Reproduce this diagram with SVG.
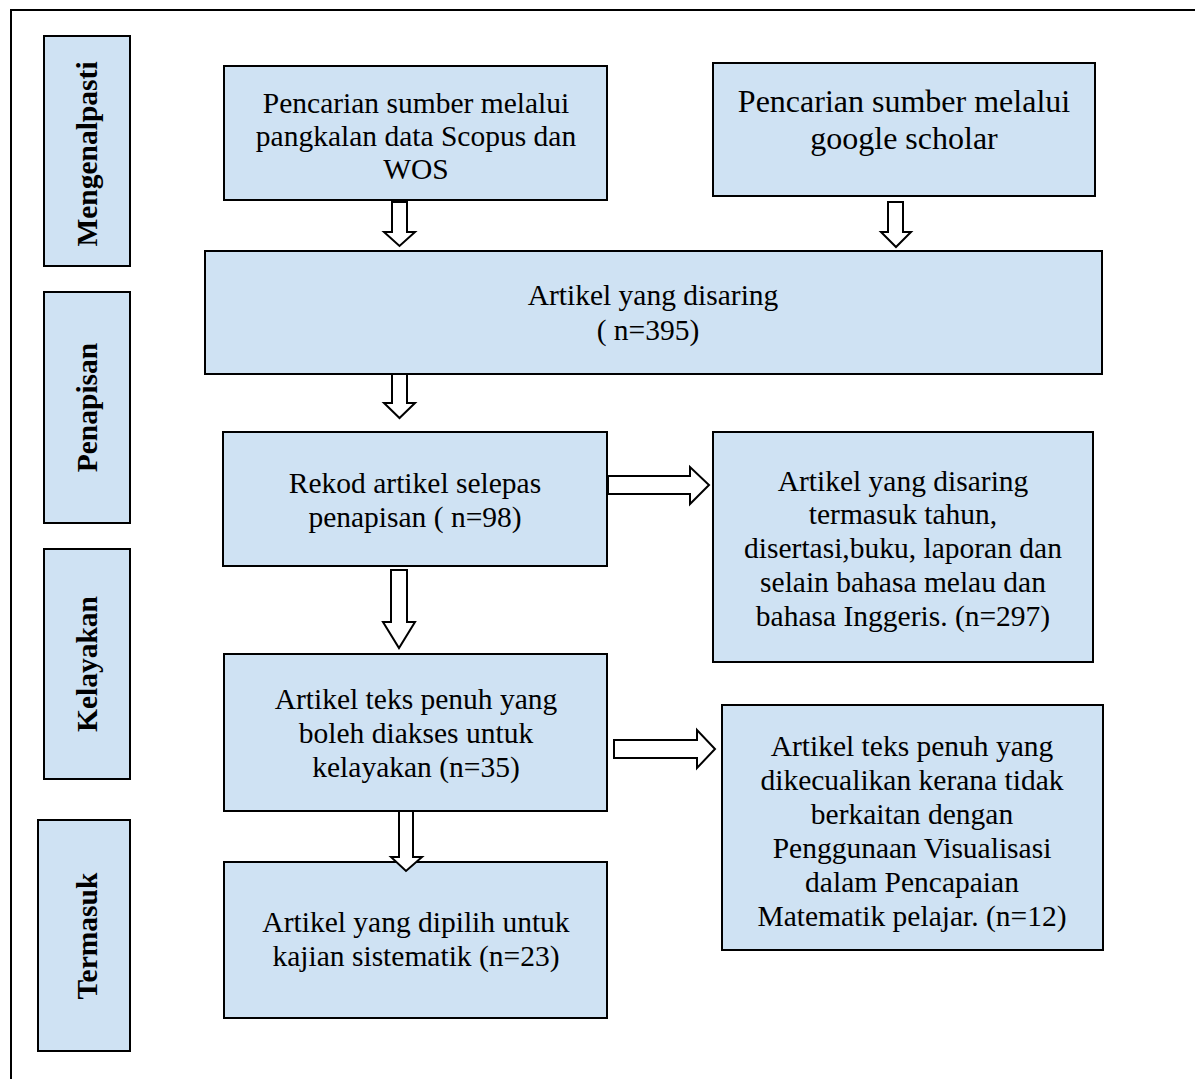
<svg xmlns="http://www.w3.org/2000/svg" width="1195" height="1079" viewBox="0 0 1195 1079">
<style>
.bx{fill:#cfe2f3;stroke:#000;stroke-width:2}
.ar{fill:#fff;stroke:#000;stroke-width:2;stroke-linejoin:miter}
.t{font-family:"Liberation Serif","Times New Roman",serif;font-size:29.5px;fill:#000;text-anchor:middle}
.t2{font-family:"Liberation Serif","Times New Roman",serif;font-size:32px;fill:#000;text-anchor:middle}
.s{font-family:"Liberation Serif","Times New Roman",serif;font-size:29.5px;font-weight:bold;fill:#000;text-anchor:middle}
</style>
<rect x="0" y="0" width="1195" height="1079" fill="#fff"/>
<rect x="11" y="10" width="1200" height="1100" fill="none" stroke="#000" stroke-width="2"/>

<g id="stage-mengenalpasti"><rect class="bx" x="44" y="36" width="86" height="230"/><text class="s" transform="translate(97,154) rotate(-90)">Mengenalpasti</text></g>
<g id="stage-penapisan"><rect class="bx" x="44" y="292" width="86" height="231"/><text class="s" transform="translate(97,407.5) rotate(-90)">Penapisan</text></g>
<g id="stage-kelayakan"><rect class="bx" x="44" y="549" width="86" height="230"/><text class="s" transform="translate(97,664) rotate(-90)">Kelayakan</text></g>
<g id="stage-termasuk"><rect class="bx" x="38" y="820" width="92" height="231"/><text class="s" transform="translate(97,936) rotate(-90)">Termasuk</text></g>

<g id="scopus"><rect class="bx" x="224" y="66" width="383" height="134"/>
<text class="t" x="416" y="113">Pencarian sumber melalui</text>
<text class="t" x="416" y="146">pangkalan data Scopus dan</text>
<text class="t" x="416" y="179">WOS</text></g>

<g id="scholar"><rect class="bx" x="713" y="63" width="382" height="133"/>
<text class="t2" x="904" y="112">Pencarian sumber melalui</text>
<text class="t2" x="904" y="149">google scholar</text></g>

<g id="disaring"><rect class="bx" x="205" y="251" width="897" height="123"/>
<text class="t" x="653" y="305">Artikel yang disaring</text>
<text class="t" x="648" y="340">( n=395)</text></g>

<g id="rekod"><rect class="bx" x="223" y="432" width="384" height="134"/>
<text class="t" x="415" y="493">Rekod artikel selepas</text>
<text class="t" x="415" y="527">penapisan ( n=98)</text></g>

<g id="dikecualikan1"><rect class="bx" x="713" y="432" width="380" height="230"/>
<text class="t" x="903" y="491">Artikel yang disaring</text>
<text class="t" x="903" y="524">termasuk tahun,</text>
<text class="t" x="903" y="558">disertasi,buku, laporan dan</text>
<text class="t" x="903" y="592">selain bahasa melau dan</text>
<text class="t" x="903" y="626">bahasa Inggeris. (n=297)</text></g>

<g id="teks-penuh"><rect class="bx" x="224" y="654" width="383" height="157"/>
<text class="t" x="416" y="709">Artikel teks penuh yang</text>
<text class="t" x="416" y="743">boleh diakses untuk</text>
<text class="t" x="416" y="777">kelayakan (n=35)</text></g>

<g id="dikecualikan2"><rect class="bx" x="722" y="705" width="381" height="245"/>
<text class="t" x="912" y="756">Artikel teks penuh yang</text>
<text class="t" x="912" y="790">dikecualikan kerana tidak</text>
<text class="t" x="912" y="824">berkaitan dengan</text>
<text class="t" x="912" y="858">Penggunaan Visualisasi</text>
<text class="t" x="912" y="892">dalam Pencapaian</text>
<text class="t" x="912" y="926">Matematik pelajar. (n=12)</text></g>

<g id="dipilih"><rect class="bx" x="224" y="862" width="383" height="156"/>
<text class="t" x="416" y="932">Artikel yang dipilih untuk</text>
<text class="t" x="416" y="966">kajian sistematik (n=23)</text></g>

<g id="connectors">
<polygon class="ar" points="392,202 407,202 407,232 415,232 399.5,246 384,232 392,232"/>
<polygon class="ar" points="888,202 903,202 903,232 911,232 896,247 881,232 888,232"/>
<polygon class="ar" points="392,374 407,374 407,403 415,403 399.5,418 384,403 392,403"/>
<polygon class="ar" points="391,570 407,570 407,622 415,622 399,648 383,622 391,622"/>
<polygon class="ar" points="399,811 413,811 413,857 422,857 406,871 391,857 399,857"/>
<polygon class="ar" points="608,476 690,476 690,467 709,485 690,504 690,494 608,494"/>
<polygon class="ar" points="614,740 697,740 697,730 715,749 697,768 697,758 614,758"/>
</g>
</svg>
